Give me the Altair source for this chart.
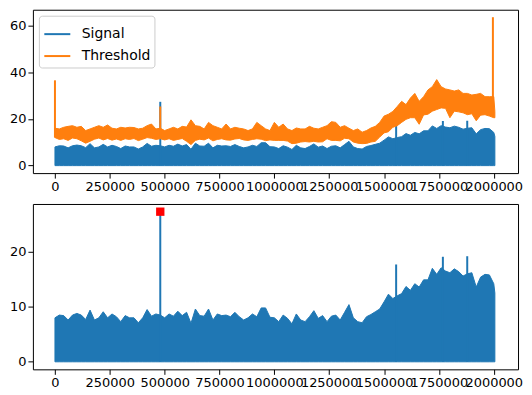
import altair as alt
import pandas as pd

# sample positions (x) of the envelopes, every 20000 samples, plus the last sample
x_pos = list(range(0, 2000001, 20000)) + [2005000]

# upper envelope of the Signal trace
signal_peak = [
    8.0, 8.5, 8.4, 7.6, 8.5, 8.8, 8.5, 7.7, 9.4, 7.6,
    8.0, 9.1, 8.0, 8.7, 8.2, 7.3, 8.4, 8.0, 8.0, 7.1,
    8.0, 9.5, 8.3, 8.7, 8.5, 8.0, 8.7, 8.3, 9.2, 8.4,
    9.0, 7.0, 9.6, 8.4, 8.3, 9.6, 7.6, 8.7, 8.4, 8.5,
    8.2, 9.0, 8.2, 7.6, 8.0, 8.7, 8.2, 9.8, 9.8, 8.1,
    8.0, 7.3, 8.5, 7.9, 6.9, 8.7, 7.6, 7.3, 8.2, 9.3,
    7.9, 8.4, 7.3, 8.3, 8.5, 7.6, 9.0, 10.4, 8.0, 7.3,
    7.1, 8.2, 8.6, 9.1, 9.6, 10.9, 12.3, 11.5, 12.0, 12.4,
    13.7, 13.0, 14.2, 13.6, 14.9, 14.9, 17.0, 15.9, 17.1, 16.5,
    16.2, 16.9, 16.4, 15.6, 16.0, 16.2, 13.6, 15.4, 15.9, 15.8,
    14.2, 12.5,
]

# Threshold band: upper and lower envelope
threshold_high = [
    16.0, 15.7, 16.4, 16.8, 17.1, 16.4, 16.8, 15.0, 15.7, 16.4,
    17.1, 16.4, 17.4, 16.0, 15.7, 16.4, 16.1, 16.4, 16.3, 15.7,
    16.0, 17.1, 17.8, 15.7, 16.0,
    15.0, 15.7, 16.4, 15.7, 16.8, 16.5, 19.6, 17.1, 16.8, 15.7,
    18.5, 17.1, 16.4, 15.7, 17.8, 15.7, 16.4, 16.0, 15.7, 15.0,
    15.7, 18.5, 17.1, 15.7, 15.0,
    18.5, 16.4, 17.8, 15.7, 15.0, 16.1, 15.7, 15.7, 16.8, 16.0,
    15.7, 16.4, 17.1, 18.8, 18.5, 16.4, 17.1, 16.0, 15.0, 15.7,
    14.3, 15.0, 16.1, 16.8, 18.5, 21.2,
    22.0, 23.2, 25.3, 27.5, 26.1, 28.9, 30.9, 27.5, 29.5, 32.4,
    33.8, 36.8, 33.8, 32.8, 32.4, 31.9, 32.4, 30.9, 30.9, 30.2,
    30.5, 30.9, 29.5, 29.5, 29.5,
    23.2,
]
threshold_low = [
    12.0, 11.2, 11.5, 10.8, 11.8, 11.5, 10.6, 9.6, 10.4, 11.3,
    11.8, 11.0, 11.6, 10.9, 11.4, 10.8, 11.5, 11.2, 11.6, 10.7,
    11.3, 12.0, 11.7, 11.2, 11.5,
    11.0, 11.5, 10.8, 11.2, 11.6, 10.4, 9.0, 10.8, 11.3, 11.0,
    11.8, 10.6, 11.2, 11.5, 11.0, 10.9, 11.4, 11.6, 11.0, 10.8,
    11.2, 11.5, 11.3, 10.7, 11.0,
    10.8, 10.8, 10.8, 10.5, 9.4, 9.6, 10.1, 10.3, 10.1, 10.4,
    10.1, 10.2, 11.5, 10.8, 10.8, 10.6, 11.7, 11.5, 10.1, 9.6,
    9.4, 9.5, 10.1, 10.4, 12.2, 14.0,
    14.5, 16.4, 17.1, 18.5, 19.8, 20.5, 20.5, 17.7, 21.7, 22.0,
    23.3, 24.0, 24.7, 24.5, 20.5, 23.3, 23.0, 22.6, 21.8, 22.2,
    19.2, 21.6, 21.8, 21.2, 20.5,
    20.5,
]

# narrow spikes
signal_spike_x = [480000, 1555000, 1768000, 1879000]
signal_spike_y = [27.3, 17.7, 19.1, 19.2]
threshold_spike_x = [0, 480000, 1996000]
threshold_spike_y = [36.5, 25.3, 63.5]
threshold_spike_base = [12.0, 12.0, 21.0]

# detected peak (red marker)
peak_x = [480000]
peak_y = [27.3]

x_ticks = [0, 250000, 500000, 750000, 1000000, 1250000, 1500000, 1750000, 2000000]

BLUE = "#1f77b4"
ORANGE = "#ff7f0e"

sig_df = pd.DataFrame({"x": x_pos, "hi": signal_peak, "lo": [0.0] * len(x_pos), "series": "Signal"})
thr_df = pd.DataFrame({"x": x_pos, "hi": threshold_high, "lo": threshold_low, "series": "Threshold"})
sig_sp = pd.DataFrame({"x": signal_spike_x, "hi": signal_spike_y, "lo": [0.0] * len(signal_spike_x)})
thr_sp = pd.DataFrame({"x": threshold_spike_x, "hi": threshold_spike_y, "lo": threshold_spike_base})
pk_df = pd.DataFrame({"x": peak_x, "y": peak_y})

xscale = alt.Scale(domain=[-100500, 2110500], nice=False, zero=False)
xaxis = alt.Axis(values=x_ticks, format="d", title=None, labelOverlap=False)
series_scale = alt.Scale(domain=["Signal", "Threshold"], range=[BLUE, ORANGE])


def area_layer(df, yscale, yaxis, legend, fill):
    return alt.Chart(df).mark_area(strokeWidth=1, interpolate="linear", fill=fill).encode(
        x=alt.X("x:Q", scale=xscale, axis=xaxis),
        y=alt.Y("hi:Q", scale=yscale, axis=yaxis),
        y2="lo:Q",
        stroke=alt.Stroke("series:N", scale=series_scale, legend=legend),
    )


def spike_layer(df, color):
    return alt.Chart(df).mark_rule(color=color, strokeWidth=2).encode(
        x="x:Q", y="hi:Q", y2="lo:Q"
    )


top_y = alt.Scale(domain=[-3.2, 66.7], nice=False, zero=False)
top_axis = alt.Axis(values=[0, 20, 40, 60], title=None)
bot_y = alt.Scale(domain=[-1.37, 28.7], nice=False, zero=False)
bot_axis = alt.Axis(values=[0, 10, 20], title=None)

legend = alt.Legend(
    title=None, orient="top-left", offset=6, symbolType="stroke",
    symbolSize=680, symbolStrokeWidth=2, labelFontSize=14, labelFont="DejaVu Sans",
    strokeColor="#cccccc", fillColor="white", padding=4, cornerRadius=3,
    rowPadding=-3, labelOffset=10, labelColor="black",
)

top = alt.layer(
    area_layer(sig_df, top_y, top_axis, legend, BLUE),
    spike_layer(sig_sp, BLUE),
    area_layer(thr_df, top_y, top_axis, legend, ORANGE),
    spike_layer(thr_sp, ORANGE),
).properties(width=487, height=164)

bottom = alt.layer(
    area_layer(sig_df, bot_y, bot_axis, None, BLUE),
    spike_layer(sig_sp, BLUE),
    alt.Chart(pk_df).mark_square(color="red", size=70, opacity=1).encode(
        x="x:Q", y="y:Q"
    ),
).properties(width=487, height=166)

chart = alt.vconcat(top, bottom, spacing=9).resolve_scale(
    stroke="independent"
).resolve_legend(stroke="independent").properties(
    padding={"left": 0, "top": 0, "right": 0, "bottom": 0},
    background="white",
).configure_view(stroke="black", strokeWidth=1).configure_axis(
    domain=False, grid=False, labelFontSize=13, labelFont="DejaVu Sans",
    labelColor="black", tickColor="black", tickSize=5, labelPadding=2,
)

chart.save("out.html", embed_options={"renderer": "svg", "actions": False})
